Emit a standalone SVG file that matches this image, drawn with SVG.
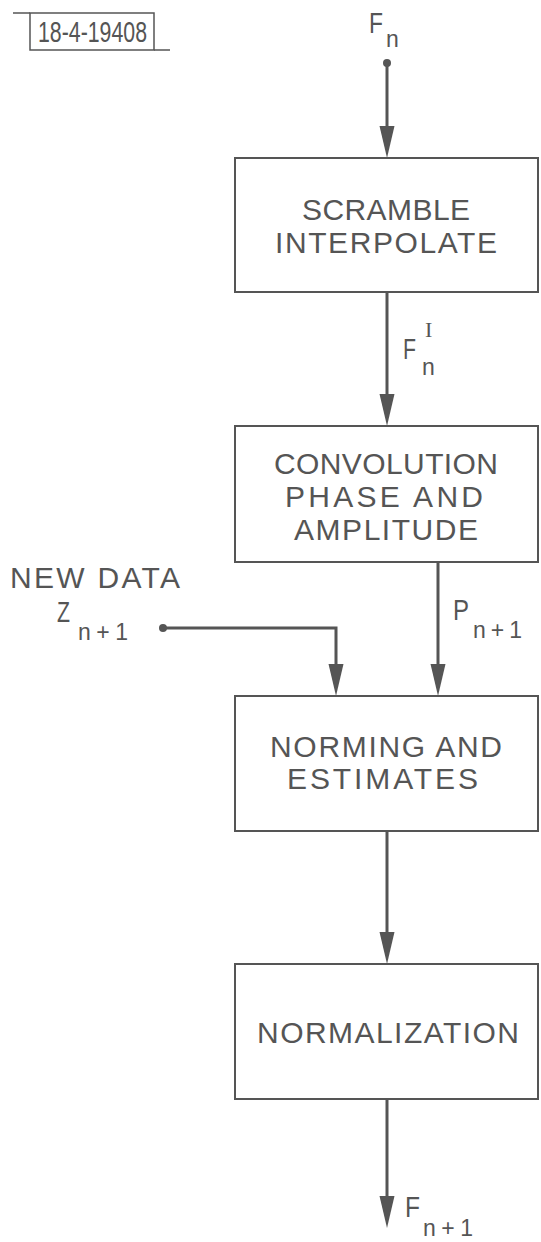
<svg xmlns="http://www.w3.org/2000/svg" width="541" height="1242" viewBox="0 0 541 1242">
<style>
.box{fill:none;stroke:#555;stroke-width:2}
.wire{fill:none;stroke:#555;stroke-width:3}
.t{font-family:"Liberation Sans",Arial,sans-serif;fill:#555;font-size:30px}
.s{font-family:"Liberation Sans",Arial,sans-serif;fill:#555;font-size:23px}
</style>
<defs>
<marker id="ah" markerUnits="userSpaceOnUse" markerWidth="32" markerHeight="16" viewBox="0 0 32 16" refX="16" refY="8" orient="auto">
<path d="M0,0.5 L32,8 L0,15.5 Z" fill="#555"/>
</marker>
</defs>
<rect width="541" height="1242" fill="#fff"/>
<g id="tag">
<rect x="30" y="13" width="124" height="37" fill="none" stroke="#555" stroke-width="1.5"/>
<line x1="13" y1="13" x2="30" y2="13" stroke="#555" stroke-width="1.5"/>
<line x1="154" y1="50" x2="170" y2="50" stroke="#555" stroke-width="1.5"/>
<text class="t" x="38" y="42" font-size="26" textLength="109" lengthAdjust="spacingAndGlyphs">18-4-19408</text>
</g>
<g id="connectors">
<circle cx="387" cy="63" r="4" fill="#555"/>
<line class="wire" x1="387" y1="63" x2="387" y2="142" marker-end="url(#ah)"/>
<line class="wire" x1="387" y1="292" x2="387" y2="410" marker-end="url(#ah)"/>
<line class="wire" x1="438" y1="562" x2="438" y2="680" marker-end="url(#ah)"/>
<circle cx="163" cy="628" r="4" fill="#555"/>
<path class="wire" d="M163,628 H336 V680" marker-end="url(#ah)"/>
<line class="wire" x1="387" y1="831" x2="387" y2="948" marker-end="url(#ah)"/>
<line class="wire" x1="387" y1="1099" x2="387" y2="1212" marker-end="url(#ah)"/>
</g>
<g id="labels">
<text class="t" x="369" y="33" font-size="26" textLength="14" lengthAdjust="spacingAndGlyphs">F</text>
<text class="s" x="386" y="47">n</text>
<text class="t" x="403" y="359" font-size="29" textLength="13" lengthAdjust="spacingAndGlyphs">F</text>
<text x="425" y="337" font-family="Liberation Serif,serif" font-size="22" fill="#555">I</text>
<text class="s" x="422" y="375" font-size="25">n</text>
<text class="t" x="10" y="588" font-size="29" textLength="170">NEW DATA</text>
<text class="t" x="57" y="622" font-size="29" textLength="13" lengthAdjust="spacingAndGlyphs">Z</text>
<text class="s" x="78" y="640" textLength="50">n + 1</text>
<text class="t" x="453" y="620" font-size="28" textLength="16" lengthAdjust="spacingAndGlyphs">P</text>
<text class="s" x="473" y="638" textLength="49">n + 1</text>
<text class="t" x="405" y="1217" font-size="23" textLength="15" lengthAdjust="spacingAndGlyphs">F</text>
<text class="s" x="423" y="1236" font-size="22" textLength="50">n + 1</text>
</g>
<g id="scramble">
<rect class="box" x="235" y="158" width="303" height="134"/>
<text class="t" x="302" y="220" textLength="168">SCRAMBLE</text>
<text class="t" x="275" y="253" textLength="222">INTERPOLATE</text>
</g>
<g id="convolution">
<rect class="box" x="235" y="426" width="303" height="136"/>
<text class="t" x="274" y="474" textLength="224">CONVOLUTION</text>
<text class="t" x="285" y="507" textLength="198">PHASE AND</text>
<text class="t" x="294" y="540" textLength="184">AMPLITUDE</text>
</g>
<g id="norming">
<rect class="box" x="235" y="696" width="303" height="135"/>
<text class="t" x="270" y="757" textLength="232">NORMING AND</text>
<text class="t" x="287" y="789" textLength="191">ESTIMATES</text>
</g>
<g id="normalization">
<rect class="box" x="235" y="964" width="303" height="135"/>
<text class="t" x="257" y="1043" textLength="262">NORMALIZATION</text>
</g>
</svg>
